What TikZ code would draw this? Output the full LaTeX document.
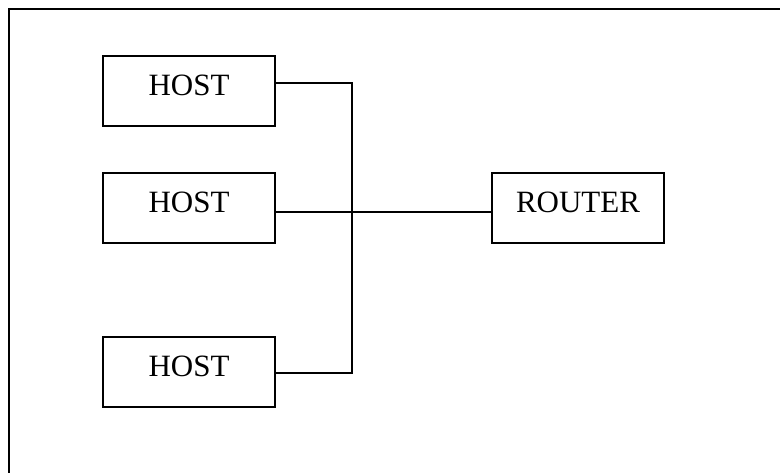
\documentclass[tikz,border=0pt]{standalone}
\usepackage{fontspec}
\setmainfont{Liberation Serif}
\usepackage{tikz}
\usetikzlibrary{calc}

\tikzset{
	netbox/.style={draw, line width=1.2pt, inner sep=0pt,
		minimum width=172pt, minimum height=70pt,
		text height=22pt, text depth=14pt,
		font=\fontsize{31}{36}\selectfont},
	wire/.style={line width=1.2pt}
}

\begin{document}
\begin{tikzpicture}[x=1pt,y=-1pt]
	\useasboundingbox (0,0) rectangle (780,472);
	
	%outer frame
	\draw[line width=1.4pt] (9,9) rectangle (800,490);
	
	%hosts
	\node[netbox] (host1) at (189,91)  {HOST};
	\node[netbox] (host2) at (189,208) {HOST};
	\node[netbox] (host3) at (189,372) {HOST};
	
	%router
	\node[netbox] (router) at (578,208) {ROUTER};
	
	%bus ends
	\coordinate (bustop) at (352,83);
	\coordinate (busbot) at (352,373);
	
		%connectors
		\draw[wire] ([yshift=8pt]host1.east)--(bustop)--(busbot)--([yshift=-1pt]host3.east);	%host1--host3
		\draw[wire] ([yshift=-4pt]host2.east)--([yshift=-4pt]router.west);						%host2--router
\end{tikzpicture}
\end{document}
